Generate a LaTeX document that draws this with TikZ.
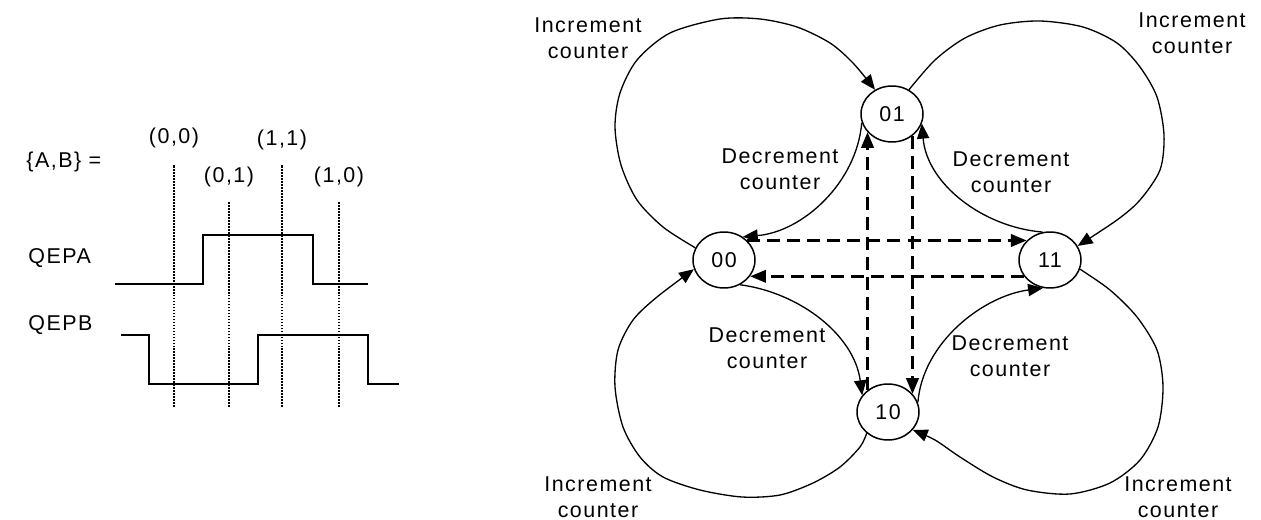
\documentclass[tikz,border=0pt]{standalone}
\usepackage{fontspec}
\setmainfont{Liberation Sans}[LetterSpace=7]
\usetikzlibrary{shapes.geometric,arrows.meta}

\begin{document}
\begin{tikzpicture}[x=0.02cm, y=-0.02cm,
    lbl/.style={font=\fontsize{12.2}{14.6}\selectfont, align=center, inner sep=0pt},
    state/.style={ellipse, draw, line width=0.85pt, minimum width=1.24cm,
      minimum height=1.12cm, inner sep=0pt, font=\fontsize{12.2}{14.6}\selectfont},
    trans/.style={line width=0.75pt, -{Triangle[length=8.5pt,width=7pt]}},
    dashlink/.style={line width=1.6pt, dash pattern=on 7.4pt off 4pt,
      -{Triangle[length=9pt,width=7pt]}},
    wave/.style={line width=1.1pt},
    sampleline/.style={line width=1.4pt, dash pattern=on 1pt off 0.7pt}]
  \useasboundingbox (0,0) rectangle (1261,520);

  % timing of the two channels
  \node[lbl, anchor=west] (ab) at (26,162) {\{A,B\} =};
  \node[lbl, anchor=west] (qa) at (28,258) {QEPA};
  \node[lbl, anchor=west] (qb) at (28,325) {QEPB};
  \draw[wave] (115,284) -- (203,284) -- (203,235) -- (313,235) -- (313,284) -- (368,284);
  \draw[wave] (121,335) -- (149,335) -- (149,384) -- (258,384) -- (258,335)
    -- (368,335) -- (368,384) -- (399,384);
  \foreach \xx/\ytop/\ly/\lab in {174/165/138/{(0,0)}, 229/202/177/{(0,1)},
                                  282/165/140/{(1,1)}, 339/202/177/{(1,0)}} {
    \draw[sampleline] (\xx,407) -- (\xx,\ytop);
    \node[lbl] at (\xx,\ly) {\lab};
  }

  % states
  \node[state] (n01) at (892,114) {01};
  \node[state] (n00) at (724,260) {00};
  \node[state] (n11) at (1050,260) {11};
  \node[state] (n10) at (888,412) {10};

  \node[lbl] (incA) at (588,38)   {Increment\\counter};
  \node[lbl] (incB) at (1192,33)  {Increment\\counter};
  \node[lbl] (incC) at (598,497)  {Increment\\counter};
  \node[lbl] (incD) at (1178,497) {Increment\\counter};
  \node[lbl] (decA) at (780,169)  {Decrement\\counter};
  \node[lbl] (decB) at (1011,172) {Decrement\\counter};
  \node[lbl] (decC) at (767,348)  {Decrement\\counter};
  \node[lbl] (decD) at (1010,356) {Decrement\\counter};

  % increment: big loops
  \draw[trans] plot[smooth] coordinates {(n00.157) (663,227) (637,200) (621,165)
    (615,127) (620,93) (637,60) (670,33) (720,19) (760,19) (797,27) (830,43)
    (853,63) (n01.125)};
  \draw[trans] plot[smooth] coordinates {(n01.55) (935,60) (965,38) (1000,25)
    (1040,21) (1083,27) (1117,43) (1140,67) (1157,97) (1164,135) (1160,170)
    (1140,200) (1117,220) (n11.27)};
  \draw[trans] plot[smooth] coordinates {(n11.-17) (1110,290) (1137,317)
    (1157,350) (1163,387) (1158,427) (1140,460) (1110,483) (1070,494)
    (1027,490) (993,477) (960,457) (935,440) (n10.-36)};
  \draw[trans] plot[smooth] coordinates {(n10.-135) (860,447) (840,467)
    (813,483) (780,495) (742,497) (700,490) (663,477) (640,457) (623,427)
    (615,387) (618,350) (633,320) (657,297) (n00.197)};
  % decrement: inner arcs
  \draw[trans] (n01.196) .. controls +(-5,60) and +(60,-5) .. (n00.51);
  \draw[trans] (n11.105) .. controls +(-60,-5) and +(5,60) .. (n01.-18);
  \draw[trans] (n10.18) .. controls +(5,-60) and +(-60,8) .. (n11.-104);
  \draw[trans] (n00.-57) .. controls +(60,8) and +(-8,-60) .. (n10.147);

  % direct jumps
  \draw[dashlink] (n00.40) -- (n00.40 -| n11.140);
  \draw[dashlink] (n11.212) -- (n11.212 -| n00.-32);
  \draw[dashlink] (n10.133) -- (n10.133 |- n01.216);
  \draw[dashlink] (n01.-47) -- (n01.-47 |- n10.36);
\end{tikzpicture}
\end{document}
